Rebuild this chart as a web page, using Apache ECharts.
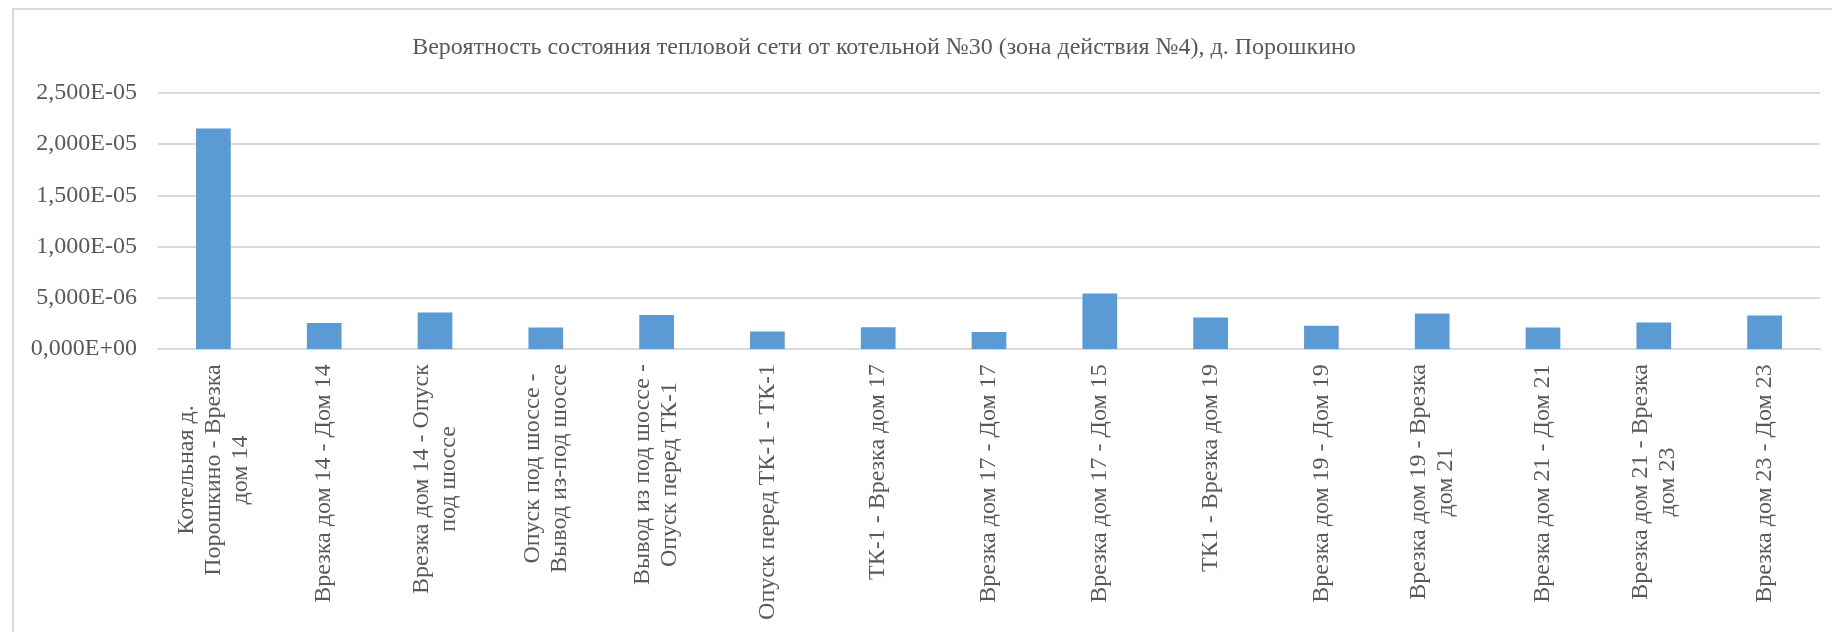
<!DOCTYPE html>
<html>
<head>
<meta charset="utf-8">
<script src="https://cdn.jsdelivr.net/npm/echarts@6/dist/echarts.min.js"></script>
<style>
  html, body { margin: 0; padding: 0; background: #fff; }
  #chart { width: 1832px; height: 632px; }
</style>
</head>
<body>
<div id="chart"></div>
<script>
// данные
const titleText = 'Вероятность состояния тепловой сети от котельной №30 (зона действия №4), д. Порошкино';
const categories = [
  'Котельная д.\nПорошкино - Врезка\nдом 14',
  'Врезка дом 14 - Дом 14',
  'Врезка дом 14 - Опуск\nпод шоссе',
  'Опуск под шоссе -\nВывод из-под шоссе',
  'Вывод из под шоссе -\nОпуск перед ТК-1',
  'Опуск перед ТК-1 - ТК-1',
  'ТК-1 - Врезка дом 17',
  'Врезка дом 17 - Дом 17',
  'Врезка дом 17 - Дом 15',
  'ТК1 - Врезка дом 19',
  'Врезка дом 19 - Дом 19',
  'Врезка дом 19 - Врезка\nдом 21',
  'Врезка дом 21 - Дом 21',
  'Врезка дом 21 - Врезка\nдом 23',
  'Врезка дом 23 - Дом 23'
];
const values = [
  2.153e-5, 2.54e-6, 3.56e-6, 2.09e-6, 3.33e-6,
  1.70e-6, 2.12e-6, 1.65e-6, 5.42e-6, 3.07e-6,
  2.28e-6, 3.46e-6, 2.09e-6, 2.58e-6, 3.26e-6
];
const yMin = 0;
const yMax = 2.5e-5;
const yStep = 5e-6;

const FONT = '"Liberation Serif", "Times New Roman", serif';
const TEXT_COLOR = '#595959';
const GRID_COLOR = '#d9d9d9';

// формат 2,500E-05
function sci(v) {
  if (Math.abs(v) < 1e-12) return '0,000E+00';
  const parts = v.toExponential(3).split('e');
  const n = parseInt(parts[1], 10);
  return parts[0].replace('.', ',') + 'E' + (n < 0 ? '-' : '+') + String(Math.abs(n)).padStart(2, '0');
}

// ширина блока подписи, чтобы строки центрировались внутри
const ctx = document.createElement('canvas').getContext('2d');
ctx.font = '24px ' + FONT;
const rich = {};
categories.forEach((c, i) => {
  let w = 0;
  c.split('\n').forEach(l => { w = Math.max(w, ctx.measureText(l).width); });
  rich['l' + i] = {
    width: Math.ceil(w) + 2,
    align: 'center',
    fontSize: 24,
    fontFamily: FONT,
    color: TEXT_COLOR,
    lineHeight: 27
  };
});

const chart = echarts.init(document.getElementById('chart'), null, { renderer: 'canvas' });

const option = {
  backgroundColor: '#fff',
  animation: false,
  title: {
    text: titleText,
    left: 879,
    top: 31,
    textAlign: 'center',
    textStyle: {
      fontFamily: FONT,
      fontSize: 24,
      fontWeight: 'normal',
      color: TEXT_COLOR
    }
  },
  graphic: [{
    type: 'rect',
    silent: true,
    z: -10,
    shape: { x: 13, y: 9, width: 1900, height: 700 },
    style: { fill: 'none', stroke: GRID_COLOR, lineWidth: 2 }
  }],
  grid: {
    left: 158,
    right: 12,
    top: 93,
    bottom: 283,
    containLabel: false
  },
  xAxis: {
    type: 'category',
    data: categories,
    axisTick: { show: false },
    axisLine: { lineStyle: { color: GRID_COLOR, width: 2 } },
    axisLabel: {
      interval: 0,
      rotate: 90,
      margin: 14,
      fontFamily: FONT,
      fontSize: 24,
      lineHeight: 27,
      color: TEXT_COLOR,
      formatter: function (value, index) {
        return value.split('\n').map(l => '{l' + index + '|' + l + '}').join('\n');
      },
      rich: rich
    }
  },
  yAxis: {
    type: 'value',
    min: yMin,
    max: yMax,
    interval: yStep,
    axisLine: { show: false },
    axisTick: { show: false },
    splitLine: { lineStyle: { color: GRID_COLOR, width: 2 } },
    axisLabel: {
      margin: 21,
      fontFamily: FONT,
      fontSize: 24,
      color: TEXT_COLOR,
      formatter: sci
    }
  },
  series: [{
    type: 'bar',
    data: values,
    barWidth: '31.3%',
    itemStyle: { color: '#5b9bd5' }
  }]
};

chart.setOption(option);
</script>
</body>
</html>
